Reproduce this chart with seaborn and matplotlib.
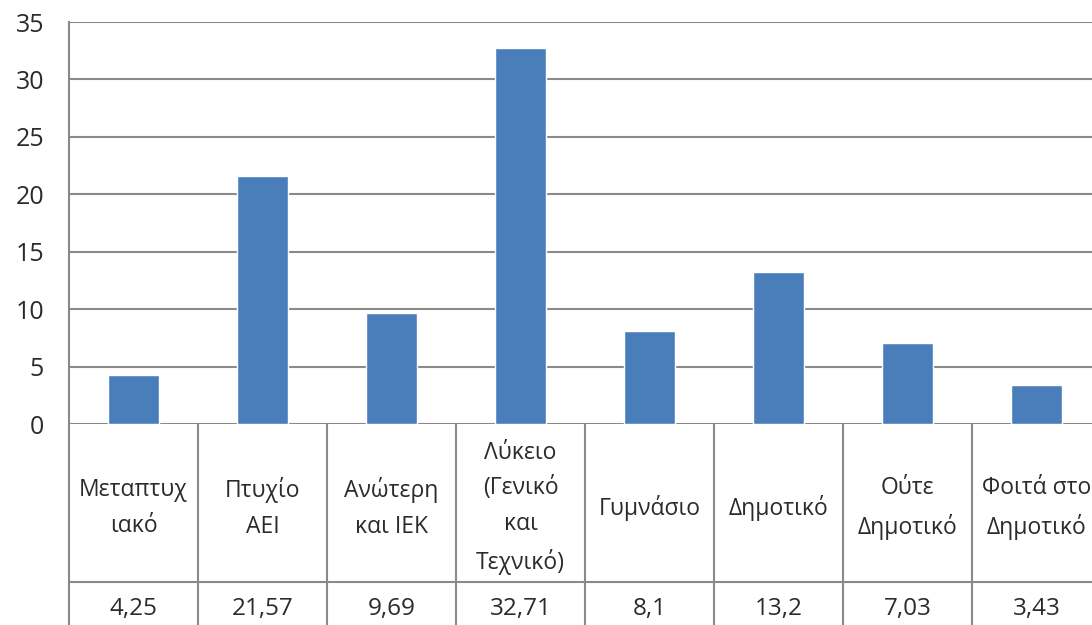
import matplotlib
matplotlib.use("Agg")
import matplotlib.pyplot as plt
import seaborn as sns
import pandas as pd

categories = [
    "Μεταπτυχ\nιακό",
    "Πτυχίο\nΑΕΙ",
    "Ανώτερη\nκαι ΙΕΚ",
    "Λύκειο\n(Γενικό\nκαι\nΤεχνικό)",
    "Γυμνάσιο",
    "Δημοτικό",
    "Ούτε\nΔημοτικό",
    "Φοιτά στο\nΔημοτικό",
]
values = [4.25, 21.57, 9.69, 32.71, 8.1, 13.2, 7.03, 3.43]
y_ticks = [0, 5, 10, 15, 20, 25, 30, 35]

sns.set_theme(style="white")
plt.rcParams["font.family"] = ["Open Sans", "DejaVu Sans"]

W, H = 1092, 625
fig = plt.figure(figsize=(W / 100, H / 100), dpi=100)
fig.patch.set_facecolor("white")

# plot area in pixel coordinates
left_px, top_px, zero_px, cat_w = 69, 22, 424, 129
n = len(categories)
ax = fig.add_axes([left_px / W, (H - zero_px) / H, cat_w * n / W, (zero_px - top_px) / H])

df = pd.DataFrame({"cat": categories, "val": values})
sns.barplot(data=df, x="cat", y="val", color="#4A7EBB", width=0.39,
            saturation=1, ax=ax, zorder=3)

grid_c = "#8a8a8a"
txt_c = "#2b2b2b"
ax.set_xlim(-0.5, n - 0.5)
ax.set_ylim(0, 35)
ax.set_yticks(y_ticks)
ax.set_yticklabels([str(t) for t in y_ticks], fontsize=18, color=txt_c)
ax.tick_params(axis="y", length=0, pad=18)
ax.set_xticks([])
ax.set_xlabel("")
ax.set_ylabel("")
for t in y_ticks:
    ax.axhline(t, color=grid_c, lw=1.5, zorder=1)
for s in ["top", "right", "bottom"]:
    ax.spines[s].set_visible(False)
ax.spines["left"].set_color(grid_c)
ax.spines["left"].set_linewidth(1.5)

# data table beneath the bars
axt = fig.add_axes([left_px / W, 0, cat_w * n / W, (H - zero_px) / H])
axt.set_xlim(-0.5, n - 0.5)
axt.set_ylim(0, H - zero_px)
axt.axis("off")
row_line = H - 582
for i in range(n + 1):
    axt.plot([i - 0.5, i - 0.5], [0, H - zero_px], color=grid_c, lw=1.5,
             clip_on=False)
axt.plot([-0.5, n - 0.5], [row_line, row_line], color=grid_c, lw=1.5,
         clip_on=False)
for i, (c, v) in enumerate(zip(categories, values)):
    axt.text(i, (row_line + (H - zero_px)) / 2 - 5, c, ha="center", va="center",
             fontsize=16.5, color=txt_c, linespacing=1.66)
    axt.text(i, row_line / 2 - 5, f"{v:g}".replace(".", ","), ha="center",
             va="center", fontsize=17.5, color=txt_c)

fig.savefig("out.png", dpi=100, facecolor="white")
